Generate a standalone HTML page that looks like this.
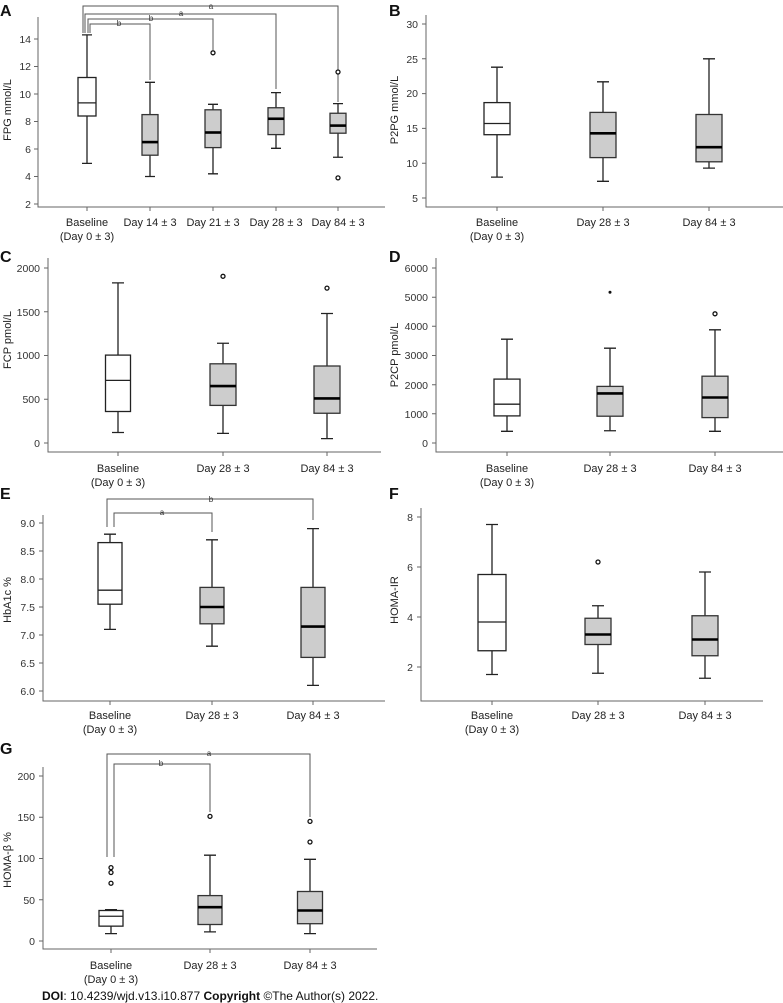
<!DOCTYPE html>
<html><head><meta charset="utf-8"><style>
body{margin:0;background:#fff}
svg{display:block;font-family:"Liberation Sans",sans-serif}
.ax{stroke:#666;stroke-width:1;fill:none}
.w{stroke:#222;stroke-width:1.3;fill:none}
.bw{stroke:#222;stroke-width:1.3;fill:#fff}
.bg{stroke:#333;stroke-width:1.3;fill:#cdcdcd}
.md{stroke:#000;stroke-width:2.6}
.br{stroke:#555;stroke-width:1;fill:none}
.o{fill:#fff;stroke:#111;stroke-width:1.3}
.t{font-size:10.5px;fill:#333;text-anchor:end}
.c{font-size:11px;fill:#222;text-anchor:middle}
.yl{font-size:11px;fill:#222;text-anchor:middle}
.s{font-size:8px;fill:#333;text-anchor:middle}
.P{font-size:16px;font-weight:bold;fill:#111}
</style></head><body>
<svg width="783" height="1003" viewBox="0 0 783 1003">
<!-- A -->
<text class="P" x="0" y="16">A</text>
<text class="yl" transform="translate(11,110) rotate(-90)">FPG mmol/L</text>
<path class="ax" d="M38,17V207H385"/>
<g class="ax"><path d="M34,204H38M34,176.5H38M34,149H38M34,121.5H38M34,94H38M34,66.5H38M34,39H38M87,207v4M150,207v4M213,207v4M276,207v4M338,207v4"/></g>
<g class="t"><text x="31" y="208">2</text><text x="31" y="180">4</text><text x="31" y="153">6</text><text x="31" y="125">8</text><text x="31" y="98">10</text><text x="31" y="70">12</text><text x="31" y="43">14</text></g>
<g class="c"><text x="87" y="226">Baseline</text><text x="87" y="240">(Day 0 ± 3)</text><text x="150" y="226">Day 14 ± 3</text><text x="213" y="226">Day 21 ± 3</text><text x="276" y="226">Day 28 ± 3</text><text x="338" y="226">Day 84 ± 3</text></g>
<path class="br" d="M83,33V6H338V102M85,33V14H276V89M88,33V19H213V50M90,33V24H150V80"/>
<g class="s"><text x="211" y="9">a</text><text x="181" y="16">a</text><text x="151" y="21">b</text><text x="119" y="26">b</text></g>
<path class="w" d="M87,163.4V34.9M82,163.4h10M82,34.9h10"/><rect class="bw" x="78" y="77.5" width="18" height="38.5"/><path class="w" d="M78,102.9h18"/>
<path class="w" d="M150,176.5V82.3M145,176.5h10M145,82.3h10"/><rect class="bg" x="142" y="114.6" width="16" height="40.6"/><path class="md" d="M142,142.1h16"/>
<path class="w" d="M213,173.8V104.3M208,173.8h10M208,104.3h10"/><rect class="bg" x="205" y="109.8" width="16" height="37.8"/><path class="md" d="M205,132.5h16"/><circle class="o" cx="213" cy="52.8" r="2"/>
<path class="w" d="M276,148.3V92.6M271,148.3h10M271,92.6h10"/><rect class="bg" x="268" y="107.75" width="16" height="26.85"/><path class="md" d="M268,118.75h16"/>
<path class="w" d="M338,157.25V103.6M333,157.25h10M333,103.6h10"/><rect class="bg" x="330" y="113.25" width="16" height="19.95"/><path class="md" d="M330,125.6h16"/><circle class="o" cx="338" cy="72" r="2"/><circle class="o" cx="338" cy="177.9" r="2"/>

<!-- B -->
<text class="P" x="389" y="16">B</text>
<text class="yl" transform="translate(398,110) rotate(-90)">P2PG mmol/L</text>
<path class="ax" d="M426,15V207H783"/>
<path class="ax" d="M422,198H426M422,163.2H426M422,128.4H426M422,93.6H426M422,58.8H426M422,24H426M497,207v4M603,207v4M709,207v4"/>
<g class="t"><text x="418" y="202">5</text><text x="418" y="167">10</text><text x="418" y="132">15</text><text x="418" y="97">20</text><text x="418" y="63">25</text><text x="418" y="28">30</text></g>
<g class="c"><text x="497" y="226">Baseline</text><text x="497" y="240">(Day 0 ± 3)</text><text x="603" y="226">Day 28 ± 3</text><text x="709" y="226">Day 84 ± 3</text></g>
<path class="w" d="M497,177.1V67.2M491,177.1h12M491,67.2h12"/><rect class="bw" x="484" y="102.6" width="26" height="32.1"/><path class="w" d="M484,123.5h26"/>
<path class="w" d="M603,181.3V81.8M597,181.3h12M597,81.8h12"/><rect class="bg" x="590" y="112.4" width="26" height="45.2"/><path class="md" d="M590,133.3h26"/>
<path class="w" d="M709,168.1V58.8M703,168.1h12M703,58.8h12"/><rect class="bg" x="696" y="114.5" width="26" height="47.3"/><path class="md" d="M696,147.2h26"/>

<!-- C -->
<text class="P" x="0" y="262">C</text>
<text class="yl" transform="translate(11,340) rotate(-90)">FCP pmol/L</text>
<path class="ax" d="M48,258V452H381"/>
<path class="ax" d="M44,443H48M44,399.25H48M44,355.5H48M44,311.75H48M44,268H48M118,452v4M223,452v4M327,452v4"/>
<g class="t"><text x="40" y="447">0</text><text x="40" y="403">500</text><text x="40" y="359">1000</text><text x="40" y="316">1500</text><text x="40" y="272">2000</text></g>
<g class="c"><text x="118" y="472">Baseline</text><text x="118" y="486">(Day 0 ± 3)</text><text x="223" y="472">Day 28 ± 3</text><text x="327" y="472">Day 84 ± 3</text></g>
<path class="w" d="M118,432.5V282.9M112,432.5h12M112,282.9h12"/><rect class="bw" x="105.5" y="355.1" width="25" height="56.4"/><path class="w" d="M105.5,380.4h25"/>
<path class="w" d="M223,433.4V343.25M217,433.4h12M217,343.25h12"/><rect class="bg" x="210" y="363.8" width="26" height="41.6"/><path class="md" d="M210,386.1h26"/><circle class="o" cx="223" cy="276.3" r="2"/>
<path class="w" d="M327,438.6V313.5M321,438.6h12M321,313.5h12"/><rect class="bg" x="314" y="366" width="26" height="47.25"/><path class="md" d="M314,398.4h26"/><circle class="o" cx="327" cy="288.1" r="2"/>

<!-- D -->
<text class="P" x="389" y="262">D</text>
<text class="yl" transform="translate(398,355) rotate(-90)">P2CP pmol/L</text>
<path class="ax" d="M436,258V452H783"/>
<path class="ax" d="M432,443H436M432,413.8H436M432,384.7H436M432,355.5H436M432,326.3H436M432,297.2H436M432,268H436M507,452v4M610,452v4M715,452v4"/>
<g class="t"><text x="428" y="447">0</text><text x="428" y="418">1000</text><text x="428" y="389">2000</text><text x="428" y="359">3000</text><text x="428" y="330">4000</text><text x="428" y="301">5000</text><text x="428" y="272">6000</text></g>
<g class="c"><text x="507" y="472">Baseline</text><text x="507" y="486">(Day 0 ± 3)</text><text x="610" y="472">Day 28 ± 3</text><text x="715" y="472">Day 84 ± 3</text></g>
<path class="w" d="M507,431.3V339.2M501,431.3h12M501,339.2h12"/><rect class="bw" x="494" y="379.1" width="26" height="36.8"/><path class="w" d="M494,404.2h26"/>
<path class="w" d="M610,430.75V348.2M604,430.75h12M604,348.2h12"/><rect class="bg" x="597" y="386.4" width="26" height="29.8"/><path class="md" d="M597,393.4h26"/><circle cx="610" cy="292.2" r="1.5" fill="#111"/>
<path class="w" d="M715,431.3V329.8M709,431.3h12M709,329.8h12"/><rect class="bg" x="702" y="376.2" width="26" height="41.4"/><path class="md" d="M702,397.5h26"/><circle class="o" cx="715" cy="313.8" r="2"/>

<!-- E -->
<text class="P" x="0" y="499">E</text>
<text class="yl" transform="translate(11,600) rotate(-90)">HbA1c %</text>
<path class="ax" d="M43,515V701H385"/>
<path class="ax" d="M39,691H43M39,663H43M39,635H43M39,607H43M39,579H43M39,551H43M39,523H43M110,701v4M212,701v4M313,701v4"/>
<g class="t"><text x="35" y="695">6.0</text><text x="35" y="667">6.5</text><text x="35" y="639">7.0</text><text x="35" y="611">7.5</text><text x="35" y="583">8.0</text><text x="35" y="555">8.5</text><text x="35" y="527">9.0</text></g>
<g class="c"><text x="110" y="719">Baseline</text><text x="110" y="733">(Day 0 ± 3)</text><text x="212" y="719">Day 28 ± 3</text><text x="313" y="719">Day 84 ± 3</text></g>
<path class="br" d="M107,527V499H313V520M114,527V513H212V532"/>
<g class="s"><text x="211" y="502">b</text><text x="162" y="515">a</text></g>
<path class="w" d="M110,629.4V534.2M104,629.4h12M104,534.2h12"/><rect class="bw" x="98" y="542.6" width="24" height="61.6"/><path class="w" d="M98,590.2h24"/>
<path class="w" d="M212,646.2V539.8M206,646.2h12M206,539.8h12"/><rect class="bg" x="200" y="587.4" width="24" height="36.4"/><path class="md" d="M200,607h24"/>
<path class="w" d="M313,685.4V528.6M307,685.4h12M307,528.6h12"/><rect class="bg" x="301" y="587.4" width="24" height="70"/><path class="md" d="M301,626.6h24"/>

<!-- F -->
<text class="P" x="389" y="499">F</text>
<text class="yl" transform="translate(398,600) rotate(-90)">HOMA-IR</text>
<path class="ax" d="M421,508V701H763"/>
<path class="ax" d="M417,667H421M417,617H421M417,567H421M417,517H421M492,701v4M598,701v4M705,701v4"/>
<g class="t"><text x="413" y="671">2</text><text x="413" y="621">4</text><text x="413" y="571">6</text><text x="413" y="521">8</text></g>
<g class="c"><text x="492" y="719">Baseline</text><text x="492" y="733">(Day 0 ± 3)</text><text x="598" y="719">Day 28 ± 3</text><text x="705" y="719">Day 84 ± 3</text></g>
<path class="w" d="M492,674.5V524.5M486,674.5h12M486,524.5h12"/><rect class="bw" x="478" y="574.5" width="28" height="76.25"/><path class="w" d="M478,622h28"/>
<path class="w" d="M598,673.25V605.75M592,673.25h12M592,605.75h12"/><rect class="bg" x="585" y="618.25" width="26" height="26.25"/><path class="md" d="M585,634.5h26"/><circle class="o" cx="598" cy="562" r="2"/>
<path class="w" d="M705,678.25V572M699,678.25h12M699,572h12"/><rect class="bg" x="692" y="615.75" width="26" height="40"/><path class="md" d="M692,639.5h26"/>

<!-- G -->
<text class="P" x="0" y="754">G</text>
<text class="yl" transform="translate(11,860) rotate(-90)">HOMA-β %</text>
<path class="ax" d="M43,767V949H377"/>
<path class="ax" d="M39,941H43M39,899.75H43M39,858.5H43M39,817.25H43M39,776H43M111,949v4M210,949v4M310,949v4"/>
<g class="t"><text x="35" y="945">0</text><text x="35" y="904">50</text><text x="35" y="862">100</text><text x="35" y="821">150</text><text x="35" y="780">200</text></g>
<g class="c"><text x="111" y="969">Baseline</text><text x="111" y="983">(Day 0 ± 3)</text><text x="210" y="969">Day 28 ± 3</text><text x="310" y="969">Day 84 ± 3</text></g>
<path class="br" d="M107,857V754H310V817M114,857V764H210V812"/>
<g class="s"><text x="209" y="756">a</text><text x="161" y="766">b</text></g>
<path class="w" d="M111,933.6V909.65M105,933.6h12M105,909.65h12"/><rect class="bw" x="99" y="910.5" width="24" height="15.65"/><path class="w" d="M99,916.25h24"/><circle class="o" cx="111" cy="883.25" r="2"/><circle class="o" cx="111" cy="872.5" r="2"/><circle class="o" cx="111" cy="867.6" r="2"/>
<path class="w" d="M210,931.9V855.2M204,931.9h12M204,855.2h12"/><rect class="bg" x="198" y="895.6" width="24" height="28.9"/><path class="md" d="M198,907.2h24"/><circle class="o" cx="210" cy="816.4" r="2"/>
<path class="w" d="M310,933.6V859.3M304,933.6h12M304,859.3h12"/><rect class="bg" x="297.5" y="891.5" width="25" height="32.2"/><path class="md" d="M297.5,910.5h25"/><circle class="o" cx="310" cy="842" r="2"/><circle class="o" cx="310" cy="821.4" r="2"/>

<text x="42" y="1000" style="font-size:12px;fill:#111"><tspan font-weight="bold">DOI</tspan>: 10.4239/wjd.v13.i10.877  <tspan font-weight="bold">Copyright</tspan> ©The Author(s) 2022.</text>
</svg>
</body></html>
